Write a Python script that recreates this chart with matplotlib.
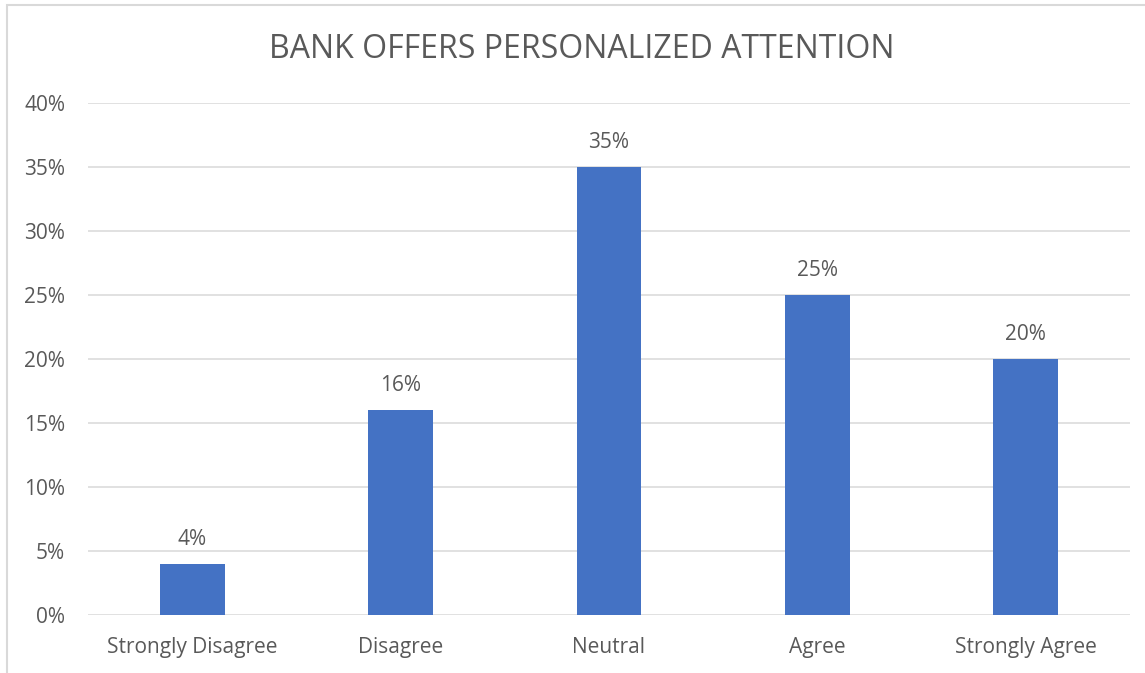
import matplotlib
matplotlib.use("Agg")
import matplotlib.pyplot as plt
from matplotlib.patches import Rectangle
from matplotlib.ticker import FuncFormatter, MultipleLocator

categories = ["Strongly Disagree", "Disagree", "Neutral", "Agree", "Strongly Agree"]
values = [4, 16, 35, 25, 20]
title = "BANK OFFERS PERSONALIZED ATTENTION"

BAR = "#4472C4"
TEXT = "#595959"
GRID = "#D9D9D9"

plt.rcParams["font.family"] = ["Open Sans", "DejaVu Sans"]

W, H = 1145, 673
fig = plt.figure(figsize=(W / 100, H / 100), dpi=100)

# chart frame
fig.patches.append(Rectangle((7 / W, -0.05), 1.2, 1 - 5 / H + 0.05,
                             transform=fig.transFigure, fill=False,
                             edgecolor=GRID, linewidth=1.5))

ax = fig.add_axes([88 / W, 1 - 615 / H, (1130 - 88) / W, (615 - 103) / H])
x = range(len(categories))
ax.bar(x, values, width=0.31, color=BAR, zorder=3)
ax.set_xlim(-0.5, len(categories) - 0.5)
ax.set_ylim(0, 40)
ax.yaxis.set_major_locator(MultipleLocator(5))
ax.yaxis.set_major_formatter(FuncFormatter(lambda v, p: f"{v:.0f}%"))
ax.grid(axis="y", color=GRID, linewidth=1.1, zorder=0)
for s in ax.spines.values():
    s.set_visible(False)
ax.tick_params(length=0, colors=TEXT, labelsize=15)
ax.tick_params(axis="y", pad=16.5)
ax.tick_params(axis="x", pad=16)
ax.set_xticks(list(x))
ax.set_xticklabels(categories)

for xi, v in zip(x, values):
    ax.annotate(f"{v}%", (xi, v), xytext=(0, 10), textcoords="offset points",
                ha="center", va="bottom", color=TEXT, fontsize=15)

fig.text(582 / W, 1 - 50 / H, title, ha="center", va="center",
         color=TEXT, fontsize=23)

fig.savefig("out.png", dpi=100)
